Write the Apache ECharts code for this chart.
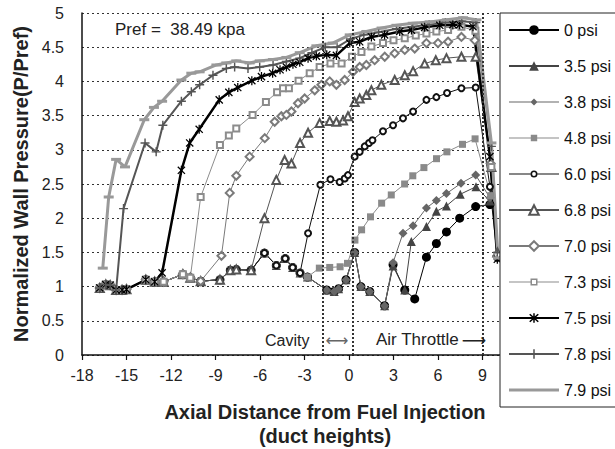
<!DOCTYPE html>
<html>
<head>
<meta charset="utf-8">
<script src="https://cdn.jsdelivr.net/npm/echarts@6/dist/echarts.min.js"></script>
<style>
  html, body { margin: 0; padding: 0; background: #fff; }
  #chart { width: 615px; height: 449px; }
</style>
</head>
<body>
<div id="chart"></div>
<script>
// Wall pressure (normalised by Pref) along the duct, one curve per back pressure.
const seriesNames = ['0 psi', '3.5 psi', '3.8 psi', '4.8 psi', '6.0 psi', '6.8 psi',
                     '7.0 psi', '7.3 psi', '7.5 psi', '7.8 psi', '7.9 psi'];

const psi0 = [
  [-16.8,0.98],[-16.4,1.03],[-16.1,1.02],[-15.7,0.95],[-15.3,0.95],[-15.0,0.96],[-13.7,1.10],
  [-13.1,1.07],[-12.5,1.07],[-11.2,1.18],[-10.7,1.13],[-10.0,1.08],[-8.7,1.10],[-8.0,1.24],
  [-7.6,1.25],[-6.6,1.24],[-5.7,1.49],[-4.9,1.31],[-4.3,1.41],[-3.8,1.28],[-3.3,1.20],
  [-2.8,1.14],[-1.5,0.95],[-1.0,0.93],[-0.7,0.97],[-0.2,1.10],[0.38,1.50],[0.8,1.00],
  [1.4,0.93],[2.4,0.72],[2.97,1.32],[3.76,0.95],[4.43,0.82],[5.22,1.43],[5.89,1.63],
  [6.57,1.80],[7.46,2.00],[8.54,2.17],[9.5,2.20]
];
const psi35 = [
  [-16.8,0.98],[-16.4,1.03],[-16.1,1.02],[-15.7,0.95],[-15.3,0.95],[-15.0,0.96],[-13.7,1.10],
  [-13.1,1.07],[-12.5,1.07],[-11.2,1.18],[-10.7,1.13],[-10.0,1.08],[-8.7,1.10],[-8.0,1.24],
  [-7.6,1.25],[-6.6,1.24],[-5.7,1.49],[-4.9,1.31],[-4.3,1.41],[-3.8,1.28],[-3.3,1.20],
  [-2.8,1.14],[-1.5,0.95],[-1.0,0.93],[-0.7,0.97],[-0.2,1.10],[0.38,1.50],[0.8,1.00],
  [1.4,0.93],[2.4,0.72],[2.97,1.30],[3.76,0.95],[4.2,1.66],[5.22,1.88],[5.89,2.10],
  [6.57,2.18],[7.5,2.35],[8.56,2.46],[9.5,2.25]
];
const psi38 = [
  [-16.8,0.98],[-16.4,1.03],[-16.1,1.02],[-15.7,0.95],[-15.3,0.95],[-15.0,0.96],[-13.7,1.10],
  [-13.1,1.07],[-12.5,1.07],[-11.2,1.18],[-10.7,1.13],[-10.0,1.08],[-8.7,1.10],[-8.0,1.24],
  [-7.6,1.25],[-6.6,1.24],[-5.7,1.49],[-4.9,1.31],[-4.3,1.41],[-3.8,1.28],[-3.3,1.20],
  [-2.8,1.14],[-1.5,0.95],[-1.0,0.93],[-0.7,0.97],[-0.2,1.10],[0.38,1.50],[0.8,1.00],
  [1.4,0.93],[2.4,0.72],[2.97,1.35],[3.64,1.78],[4.32,1.89],[5.22,2.15],[5.89,2.26],
  [6.57,2.36],[7.55,2.51],[8.54,2.63],[9.5,2.30]
];
const psi48 = [
  [-16.8,0.98],[-16.4,1.03],[-16.1,1.02],[-15.7,0.95],[-15.3,0.95],[-15.0,0.96],[-13.7,1.10],
  [-13.1,1.07],[-12.5,1.07],[-11.2,1.18],[-10.7,1.13],[-10.0,1.08],[-8.7,1.10],[-8.0,1.24],
  [-7.6,1.25],[-6.6,1.24],[-5.7,1.49],[-4.9,1.31],[-4.3,1.41],[-3.8,1.28],[-3.3,1.20],
  [-2.8,1.14],[-2.0,1.27],[-1.3,1.28],[-0.6,1.29],[-0.1,1.34],[0.4,1.68],[0.85,1.83],
  [1.45,2.02],[2.2,2.22],[2.85,2.34],[3.75,2.50],[4.3,2.62],[5.05,2.74],[5.9,2.87],
  [6.6,2.97],[7.65,3.08],[8.5,3.16],[9.55,2.33]
];
const psi60 = [
  [-16.8,0.98],[-16.4,1.03],[-16.1,1.02],[-15.7,0.95],[-15.3,0.95],[-15.0,0.96],[-13.7,1.10],
  [-13.1,1.07],[-12.5,1.07],[-11.2,1.18],[-10.7,1.13],[-10.0,1.08],[-8.7,1.10],[-8.0,1.24],
  [-7.6,1.25],[-6.6,1.24],[-5.7,1.49],[-4.9,1.31],[-4.3,1.41],[-3.8,1.28],[-3.3,1.20],
  [-2.76,1.78],[-1.93,2.49],[-1.25,2.57],[-0.63,2.53],[-0.29,2.58],[-0.07,2.63],[0.38,2.90],
  [0.72,2.97],[1.06,3.05],[1.35,3.10],[1.58,3.14],[2.29,3.27],[2.97,3.36],[3.64,3.46],
  [4.32,3.56],[5.22,3.73],[5.89,3.77],[6.61,3.83],[7.58,3.90],[8.54,3.91],[9.5,2.46],[10.0,1.42]
];
const psi68 = [
  [-16.8,0.98],[-16.4,1.03],[-16.1,1.02],[-15.7,0.95],[-15.3,0.95],[-15.0,0.96],[-13.7,1.10],
  [-13.1,1.07],[-12.5,1.07],[-11.2,1.18],[-10.7,1.13],[-10.0,1.08],[-8.7,1.10],[-8.0,1.24],
  [-7.6,1.25],[-6.6,1.24],[-5.7,2.00],[-4.9,2.56],[-4.34,2.85],[-3.88,2.80],[-3.3,3.10],
  [-2.76,3.25],[-1.98,3.39],[-1.3,3.42],[-0.85,3.41],[-0.4,3.43],[-0.07,3.49],[0.38,3.70],
  [0.72,3.75],[1.17,3.80],[1.51,3.87],[2.18,3.95],[3.08,4.02],[3.76,4.09],[4.32,4.15],
  [5.1,4.26],[5.85,4.31],[6.57,4.34],[7.58,4.36],[8.54,4.36],[9.6,2.75],[10.0,1.50]
];
const psi70 = [
  [-16.8,0.98],[-16.4,1.03],[-16.1,1.02],[-15.7,0.95],[-15.3,0.95],[-15.0,0.96],[-13.7,1.10],
  [-13.1,1.07],[-12.5,1.07],[-11.2,1.18],[-10.7,1.13],[-10.0,1.08],[-8.6,1.45],[-8.04,2.37],
  [-7.6,2.62],[-6.7,2.90],[-5.68,3.17],[-5.01,3.41],[-4.56,3.49],[-4.22,3.51],[-3.88,3.56],
  [-3.44,3.68],[-2.99,3.75],[-2.31,3.87],[-1.86,3.95],[-1.3,4.00],[-0.85,3.95],[-0.29,4.02],
  [0.27,4.14],[0.72,4.21],[1.17,4.24],[1.73,4.31],[2.41,4.36],[3.08,4.41],[3.76,4.46],
  [4.43,4.48],[5.22,4.56],[6.0,4.56],[6.68,4.58],[7.58,4.65],[8.48,4.60],[9.55,2.80],[10.0,1.45]
];
const psi73 = [
  [-16.8,0.98],[-16.4,1.03],[-16.1,1.02],[-15.7,0.95],[-15.3,0.95],[-15.0,0.96],[-13.7,1.10],
  [-13.1,1.07],[-12.5,1.07],[-11.2,1.18],[-10.7,1.13],[-10.0,2.31],[-8.7,3.07],[-8.1,3.21],
  [-7.6,3.31],[-6.5,3.51],[-5.6,3.70],[-4.85,3.84],[-4.45,3.90],[-4.05,3.90],[-3.4,4.01],
  [-2.65,4.12],[-1.98,4.21],[-1.25,4.26],[-0.5,4.26],[0.2,4.36],[0.84,4.43],[1.51,4.51],
  [2.29,4.56],[3.0,4.60],[3.76,4.63],[4.5,4.67],[5.22,4.70],[5.89,4.73],[6.68,4.75],
  [7.58,4.80],[8.52,4.74],[9.6,2.75],[10.0,1.45]
];
const psi75 = [
  [-16.8,0.98],[-16.4,1.03],[-16.1,1.02],[-15.7,0.95],[-15.3,0.95],[-15.0,0.96],[-13.7,1.10],
  [-13.1,1.07],[-12.6,1.20],[-11.3,2.70],[-10.74,3.10],[-10.1,3.30],[-8.75,3.73],[-8.1,3.84],
  [-7.5,3.91],[-6.55,4.01],[-5.9,4.07],[-5.15,4.12],[-4.65,4.17],[-4.22,4.21],[-3.78,4.25],
  [-3.32,4.28],[-2.76,4.34],[-2.2,4.37],[-1.5,4.39],[-0.85,4.38],[0.05,4.56],[0.72,4.58],
  [1.51,4.65],[2.4,4.68],[3.42,4.73],[4.21,4.75],[5.1,4.79],[6.12,4.82],[7.0,4.83],
  [7.46,4.83],[8.36,4.80],[9.5,2.90],[10.0,1.40]
];
const psi78 = [
  [-16.8,0.98],[-16.4,1.03],[-16.1,1.02],[-15.7,0.95],[-15.2,2.14],[-13.75,3.10],[-13.0,2.97],
  [-12.55,3.36],[-11.3,3.71],[-10.63,3.85],[-10.07,3.95],[-9.17,4.09],[-8.27,4.19],[-7.71,4.21],
  [-6.81,4.19],[-6.02,4.21],[-5.12,4.24],[-4.22,4.29],[-3.32,4.34],[-2.5,4.42],[-1.6,4.50],
  [-0.8,4.50],[0.1,4.62],[1.0,4.68],[2.0,4.72],[3.2,4.77],[4.3,4.80],[5.4,4.83],[6.5,4.86],
  [7.6,4.88],[8.55,4.86],[9.6,3.05],[10.0,1.50]
];
const psi79 = [
  [-16.6,1.27],[-16.2,2.31],[-15.7,2.86],[-15.1,2.75],[-13.8,3.44],[-13.15,3.62],[-12.6,3.71],
  [-11.3,4.02],[-10.63,4.12],[-10.07,4.14],[-8.94,4.24],[-8.27,4.27],[-7.6,4.30],[-6.7,4.27],
  [-6.02,4.30],[-5.12,4.32],[-4.22,4.35],[-3.32,4.42],[-2.2,4.52],[-1.1,4.56],[0.05,4.68],
  [1.17,4.73],[2.2,4.78],[3.2,4.82],[4.3,4.85],[5.44,4.87],[6.6,4.90],[7.69,4.93],
  [8.59,4.90],[9.6,3.10],[10.05,1.42]
];

// Section boundaries (duct heights): cavity start, cavity end, air throttle
const sectionLines = [-1.8, 0.27, 9.0];

const xAxisRange = { min: -18, max: 12, interval: 3 };
const yAxisRange = { min: 0, max: 5, interval: 0.5 };

// Marker shapes
const ASTERISK = 'path://M-0.7,-5L0.7,-5L0.7,5L-0.7,5Z M-3.5,-4.5L4.5,3.5L3.5,4.5L-4.5,-3.5Z M4.5,-3.5L-3.5,4.5L-4.5,3.5L3.5,-4.5Z';
const PLUS = 'path://M-0.8,-5L0.8,-5L0.8,5L-0.8,5Z M-5,-0.8L5,-0.8L5,0.8L-5,0.8Z';
const BAR = 'path://M-5,-1.5L5,-1.5L5,1.5L-5,1.5Z';

// Legend swatches (line + small marker) drawn in a 50 x 12 box
const SIDE_LINES = 'M0,5.5L21.5,5.5L21.5,6.5L0,6.5Z M28.5,5.5L50,5.5L50,6.5L28.5,6.5Z';
const legendIcons = {
  '3.8 psi': 'path://M0,5.5L50,5.5L50,6.5L0,6.5Z M25,2.5L28.5,6L25,9.5L21.5,6Z',
  '4.8 psi': 'path://M0,5.5L50,5.5L50,6.5L0,6.5Z M21.8,2.8L28.2,2.8L28.2,9.2L21.8,9.2Z',
  '6.0 psi': 'path://' + SIDE_LINES +
             ' M25,2.5A3.5,3.5 0 1 1 25,9.5A3.5,3.5 0 1 1 25,2.5Z M25,4.1A1.9,1.9 0 1 0 25,7.9A1.9,1.9 0 1 0 25,4.1Z',
  '7.3 psi': 'path://' + SIDE_LINES +
             ' M21.5,2.5L28.5,2.5L28.5,9.5L21.5,9.5Z M23,4L23,8L27,8L27,4Z',
  '7.9 psi': 'path://M0,4.5L50,4.5L50,7.5L0,7.5Z'
};

const styles = [
  { data: psi0,  symbol: 'circle',        size: 9,  color: '#000', width: 1 },
  { data: psi35, symbol: 'triangle',      size: 9,  color: '#444', width: 1 },
  { data: psi38, symbol: 'diamond',       size: 9,  color: '#666', width: 1 },
  { data: psi48, symbol: 'rect',          size: 7,  color: '#8a8a8a', width: 1 },
  { data: psi60, symbol: 'emptyCircle',   size: 6,  color: '#111', width: 1, border: 1.6 },
  { data: psi68, symbol: 'emptyTriangle', size: 8,  color: '#555', width: 1, border: 1.5 },
  { data: psi70, symbol: 'emptyDiamond',  size: 8,  color: '#7a7a7a', width: 1, border: 1.5 },
  { data: psi73, symbol: 'emptyRect',     size: 6,  color: '#8c8c8c', width: 1, border: 1.5 },
  { data: psi75, symbol: ASTERISK,        size: 9,  color: '#000', width: 2.5 },
  { data: psi78, symbol: PLUS,            size: 9,  color: '#555', width: 2 },
  { data: psi79, symbol: BAR,             size: 10, color: '#999', width: 3 }
];

const series = [{
  type: 'line',
  data: [],
  silent: true,
  markLine: {
    silent: true,
    symbol: 'none',
    label: { show: false },
    lineStyle: { color: '#333', type: [2, 2], width: 2 },
    data: sectionLines.map(v => ({ xAxis: v }))
  }
}];

styles.forEach((s, i) => {
  const st = {
    name: seriesNames[i],
    type: 'line',
    data: s.data,
    symbol: s.symbol,
    symbolSize: s.size,
    symbolKeepAspect: true,
    showAllSymbol: true,
    color: s.color,
    lineStyle: { color: s.color, width: s.width },
    itemStyle: { color: s.color },
    emphasis: { disabled: true }
  };
  if (s.border) st.itemStyle.borderWidth = s.border;
  series.push(st);
});

const legendData = seriesNames.map(n => legendIcons[n] ? { name: n, icon: legendIcons[n] } : { name: n });

const chart = echarts.init(document.getElementById('chart'), null, { renderer: 'svg' });

const FONT = 'Liberation Sans, Arial, sans-serif';

chart.setOption({
  animation: false,
  backgroundColor: '#fff',
  textStyle: { fontFamily: FONT },
  grid: { left: 82, right: 88, top: 13, bottom: 94, containLabel: false },
  xAxis: {
    type: 'value',
    min: xAxisRange.min, max: xAxisRange.max, interval: xAxisRange.interval,
    axisLine: { show: true, onZero: false, lineStyle: { color: '#111', width: 1.5 } },
    axisTick: { show: true, length: 5, lineStyle: { color: '#111', width: 1.2 } },
    axisLabel: { color: '#222', fontSize: 16, margin: 12, fontFamily: FONT },
    splitLine: { show: false }
  },
  yAxis: {
    type: 'value',
    min: yAxisRange.min, max: yAxisRange.max, interval: yAxisRange.interval,
    name: 'Normalized Wall Pressure(P/Pref)',
    nameLocation: 'middle',
    nameGap: 51,
    nameTextStyle: { fontSize: 20, fontWeight: 'bold', color: '#222', fontFamily: FONT },
    axisLine: { show: true, onZero: false, lineStyle: { color: '#111', width: 1.5 } },
    axisTick: { show: false },
    axisLabel: { color: '#222', fontSize: 16, margin: 18, fontFamily: FONT },
    splitLine: { show: true, lineStyle: { color: '#333', type: [2, 3], width: 1 } }
  },
  legend: {
    data: legendData,
    orient: 'vertical',
    left: 500, top: 13,
    padding: [9, 40, 9, 8],
    itemWidth: 50, itemHeight: 12, itemGap: 20,
    symbolKeepAspect: true,
    backgroundColor: '#fff',
    borderColor: '#222', borderWidth: 1,
    textStyle: { fontSize: 16, color: '#111', fontFamily: FONT },
    selectedMode: false
  },
  graphic: [
    { type: 'text', x: 115, y: 21, z: 10,
      style: { text: 'Pref =  38.49 kpa', font: '17px ' + FONT, fill: '#222' } },
    { type: 'text', x: 265, y: 332, z: 10,
      style: { text: 'Cavity', font: '16px ' + FONT, fill: '#222' } },
    { type: 'text', x: 337, y: 332, z: 10,
      style: { text: '\u27F7', font: '16px DejaVu Sans, sans-serif', fill: '#666', align: 'center' } },
    { type: 'text', x: 376, y: 331, z: 10,
      style: { text: 'Air Throttle', font: '17px ' + FONT, fill: '#222' } },
    { type: 'text', x: 486, y: 331, z: 10,
      style: { text: '\u27F6', font: '17px DejaVu Sans, sans-serif', fill: '#222', align: 'right' } },
    { type: 'text', x: 325, y: 400, z: 10,
      style: { text: 'Axial Distance from Fuel Injection\n(duct heights)',
               font: 'bold 20px ' + FONT, fill: '#222', align: 'center', verticalAlign: 'top', lineHeight: 24 } }
  ],
  series: series
});
</script>
</body>
</html>
